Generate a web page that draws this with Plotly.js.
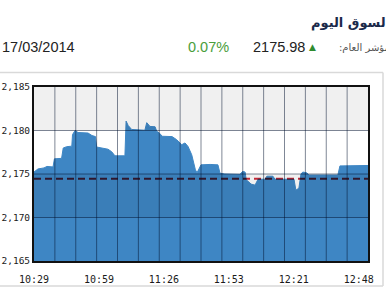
<!DOCTYPE html>
<html><head><meta charset="utf-8">
<script src="https://cdn.plot.ly/plotly-3.0.1.min.js"></script>
<style>
html,body{margin:0;padding:0;background:#fff;}
#chart{width:386px;height:300px;}
.scatterlayer .trace:last-child path.js-line{mix-blend-mode:multiply;}
</style></head><body><div id="chart"></div>
<script>
const times = ["10:29:00","10:30:42","10:33:18","10:34:36","10:37:12","10:37:48","10:40:54","10:41:36","10:43:06","10:45:18","10:45:36","10:46:42","10:48:00","10:52:18","10:54:00","10:55:30","10:56:00","10:58:18","11:00:54","11:02:30","11:03:54","11:08:12","11:08:42","11:09:36","11:11:06","11:16:48","11:17:36","11:19:00","11:21:12","11:21:54","11:23:18","11:24:12","11:28:30","11:30:30","11:32:42","11:34:06","11:35:24","11:37:00","11:37:42","11:38:36","11:39:18","11:41:00","11:44:54","11:48:18","11:49:12","11:51:18","11:57:48","11:58:54","12:00:00","12:00:30","12:02:36","12:04:18","12:05:36","12:08:36","12:09:24","12:12:00","12:12:54","12:21:06","12:21:54","12:23:12","12:24:06","12:24:54","12:26:42","12:27:30","12:40:00","12:40:54","12:53:00"];
const values = [2175.23,2175.58,2175.70,2175.87,2175.81,2176.74,2176.80,2177.99,2178.14,2178.20,2179.53,2180.00,2179.77,2179.71,2179.42,2179.30,2178.10,2177.97,2177.85,2177.56,2177.09,2177.09,2181.08,2180.58,2180.12,2180.03,2180.90,2180.47,2180.43,2179.92,2179.65,2179.34,2179.30,2178.95,2178.37,2178.57,2178.17,2177.21,2176.40,2175.47,2175.15,2176.05,2176.10,2176.05,2175.08,2175.00,2174.95,2175.29,2175.23,2174.35,2173.84,2173.72,2174.40,2174.40,2174.75,2174.75,2174.40,2174.40,2173.14,2173.37,2175.00,2175.23,2175.12,2174.88,2174.88,2175.93,2175.98];
const prevClose = 2174.46;
const xTickLabels = ["10:29","10:59","11:26","11:53","12:21","12:48"];
const yTickValues = [2165,2170,2175,2180,2185];
const titleText = "السوق اليوم";
const dateText = "17/03/2014";
const changeText = "0.07%";
const indexValueText = "2175.98";
const indexLabelText = "المؤشر العام:\u200F";

const toMin = s => { const p = s.split(':').map(Number); return p[0]*60 + p[1] + (p[2]||0)/60; };
const xs = times.map(toMin);
const xMin = xs[0], xMax = xs[xs.length-1];

const W = 386, H = 300, M = {l:34, r:18, t:87, b:39};
const pw = W - M.l - M.r, ph = H - M.t - M.b;
const px = v => (v - M.l) / pw;
const py = v => (H - M.b - v) / ph;

const gridN = 16;
const gridStep = (xMax - xMin) / gridN;
const labelStep = 28;
const tickvals = xTickLabels.map((_, i) => xMin + i*labelStep);

const gridColor = 'rgba(0,15,45,0.5)';
const shapes = [];
[[2180,2185],[2170,2175]].forEach(b => shapes.push({type:'rect', xref:'paper', yref:'y', x0:0, x1:1, y0:b[0], y1:b[1], fillcolor:'rgba(0,0,0,0.06)', line:{width:0}, layer:'above'}));
for (let k = 1; k < gridN; k++) {
  const gx = xMin + k*gridStep;
  shapes.push({type:'line', xref:'x', yref:'paper', x0:gx, x1:gx, y0:0, y1:1, line:{color:gridColor, width:1}, layer:'above'});
}
yTickValues.slice(1, -1).forEach(v => shapes.push({type:'line', xref:'paper', yref:'y', x0:0, x1:1, y0:v, y1:v, line:{color:gridColor, width:1}, layer:'above'}));
const sepColor = '#d9d9d9';
shapes.push({type:'line', xref:'paper', yref:'paper', x0:px(0), x1:px(383), y0:py(72.5), y1:py(72.5), line:{color:sepColor, width:1.5}});
shapes.push({type:'line', xref:'paper', yref:'paper', x0:px(0), x1:px(383), y0:py(286), y1:py(286), line:{color:sepColor, width:1.5}});
shapes.push({type:'line', xref:'paper', yref:'paper', x0:px(383), x1:px(383), y0:py(72.5), y1:py(286), line:{color:sepColor, width:1.5}});

const ann = (text, x, y, xanchor, font) => ({text, x:px(x), y:py(y), xref:'paper', yref:'paper', xanchor, yanchor:'middle', showarrow:false, font});
const annotations = [
  ann(titleText, 392, 23, 'right', {family:'DejaVu Sans', size:13, color:'#1b2a4a', weight:'bold'}),
  ann(dateText, 0, 47, 'left', {family:'Liberation Sans', size:14.5, color:'#222'}),
  ann(changeText, 208.5, 47, 'center', {family:'Liberation Sans', size:14.5, color:'#4a9e3c'}),
  ann(indexValueText, 278.5, 47, 'center', {family:'Liberation Sans', size:14.5, color:'#222'}),
  ann('▲', 312, 47, 'center', {family:'DejaVu Sans', size:9, color:'#2e8b2e'}),
  ann(indexLabelText, 398, 47, 'right', {family:'DejaVu Sans', size:10, color:'#555'})
];

const tickFont = {family:'DejaVu Sans Mono', size:10, color:'#1a1a1a'};
const yTickFont = {family:'DejaVu Sans Mono', size:9.5, color:'#1a1a1a'};
const data = [
  {x: xs, y: values, type:'scatter', mode:'lines', fill:'tozeroy', fillcolor:'rgb(62,134,196)', line:{color:'rgb(62,134,196)', width:1}, hoverinfo:'skip'},
  {x: [xMin, xMax], y: [prevClose, prevClose], type:'scatter', mode:'lines', line:{color:'rgb(208,44,60)', width:2, dash:'7px,4px'}, hoverinfo:'skip'}
];
const layout = {
  width: W, height: H, margin: M, showlegend:false,
  paper_bgcolor:'#fff', plot_bgcolor:'#fff',
  xaxis: {range:[xMin, xMax], tickmode:'array', tickvals, ticktext:xTickLabels, showgrid:false, zeroline:false,
    showline:true, mirror:true, linecolor:'#111', linewidth:2, ticks:'', tickfont:tickFont, ticklabelstandoff:8, fixedrange:true},
  yaxis: {range:[2165, 2185], tickmode:'array', tickvals:yTickValues, tickformat:',d', showgrid:false, zeroline:false,
    showline:true, mirror:true, linecolor:'#111', linewidth:2, ticks:'', tickfont:yTickFont, ticklabelstandoff:0, fixedrange:true},
  shapes, annotations
};
Plotly.newPlot('chart', data, layout, {staticPlot:true, displayModeBar:false});
</script></body></html>
